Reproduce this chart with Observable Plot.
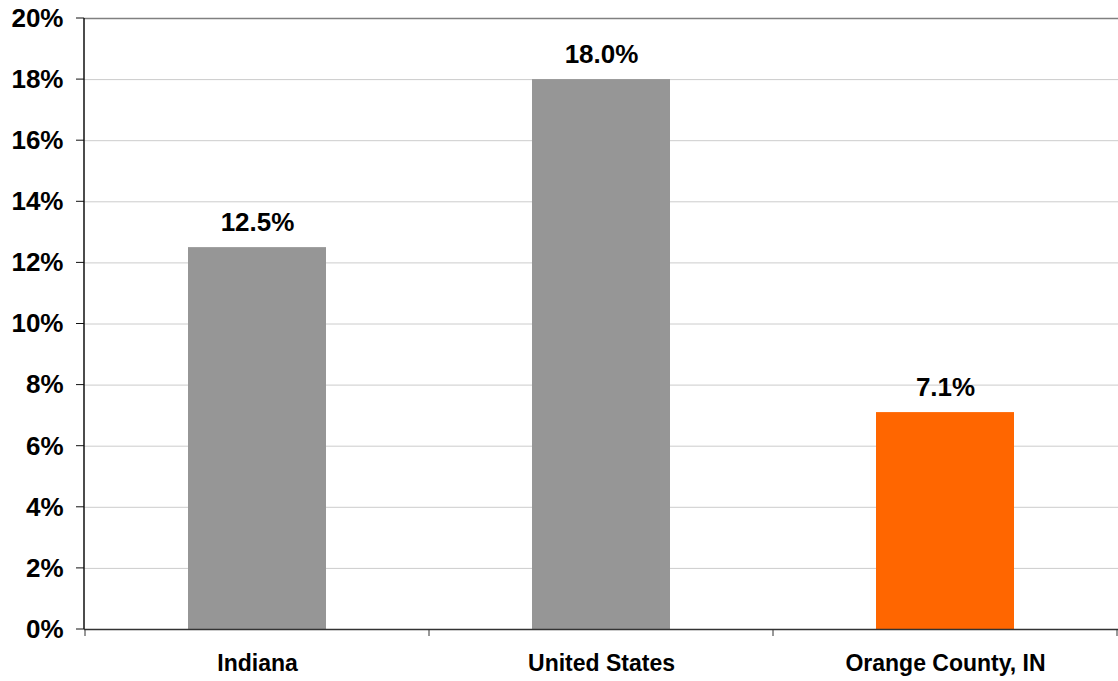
<!DOCTYPE html>
<html>
<head>
<meta charset="utf-8">
<script src="https://cdn.jsdelivr.net/npm/d3@7"></script>
<script src="https://cdn.jsdelivr.net/npm/@observablehq/plot@0.6"></script>
<style>
  html, body { margin: 0; padding: 0; background: #fff; }
  #chart svg { display: block; }
</style>
</head>
<body>
<div id="chart"></div>
<script>
// Share of population by area
const areas = ["Indiana", "United States", "Orange County, IN"];
const shares = [12.5, 18.0, 7.1];
const barColors = ["#969696", "#969696", "#FF6600"];
const yTicks = [0, 2, 4, 6, 8, 10, 12, 14, 16, 18, 20];

const data = areas.map((area, i) => ({area, share: shares[i], color: barColors[i]}));

// Tick marks on the category axis sit at the band boundaries, not the band centres
function bandBoundaryTicks(index, scales, values, dimensions) {
  const g = d3.create("svg:g");
  const bwOpt = scales.x.bandwidth;
  const bw = typeof bwOpt === "function" ? bwOpt() : bwOpt;
  const y0 = dimensions.height - dimensions.marginBottom;
  const edges = areas.map(a => scales.x(a)).concat([scales.x(areas[areas.length - 1]) + bw]);
  for (const x of edges) {
    g.append("line")
      .attr("x1", x).attr("x2", x)
      .attr("y1", y0).attr("y2", y0 + 7)
      .attr("stroke", "#333").attr("stroke-width", 1);
  }
  return g.node();
}

// Vertical axis line along the left edge of the plot area, with outward ticks
function leftAxis(index, scales, values, dimensions) {
  const g = d3.create("svg:g");
  const x = dimensions.marginLeft;
  g.append("line")
    .attr("x1", x).attr("x2", x)
    .attr("y1", scales.y(20)).attr("y2", scales.y(0))
    .attr("stroke", "#111").attr("stroke-width", 1.5);
  for (const t of yTicks) {
    g.append("line")
      .attr("x1", x - 8).attr("x2", x)
      .attr("y1", scales.y(t)).attr("y2", scales.y(t))
      .attr("stroke", "#111").attr("stroke-width", 1);
  }
  return g.node();
}

const chart = Plot.plot({
  width: 1118,
  height: 681,
  marginLeft: 84,
  marginRight: 0,
  marginTop: 18,
  marginBottom: 52,
  style: {fontFamily: "'Liberation Sans', Arial, sans-serif", background: "#fff"},
  x: {domain: areas, padding: 0, label: null},
  y: {domain: [0, 20], label: null},
  marks: [
    Plot.ruleY(yTicks.filter(t => t > 0 && t < 20), {stroke: "#cccccc", strokeWidth: 1}),
    Plot.ruleY([20], {stroke: "#808080", strokeWidth: 1.5}),
    Plot.barY(data, {x: "area", y: "share", fill: "color", insetLeft: 103, insetRight: 103}),
    Plot.ruleY([0], {stroke: "#333", strokeWidth: 1.5}),
    leftAxis,
    Plot.axisY({
      ticks: yTicks, tickSize: 0, tickPadding: 21,
      tickFormat: d => d + "%",
      fontSize: 26, fontWeight: "bold", color: "#000"
    }),
    Plot.axisX({
      tickSize: 0, tickPadding: 25,
      fontSize: 23, fontWeight: "bold", color: "#000"
    }),
    bandBoundaryTicks,
    Plot.text(data, {
      x: "area", y: "share",
      text: d => d.share.toFixed(1) + "%",
      dy: -25, fontSize: 26, fontWeight: "bold", fill: "#000"
    })
  ]
});

document.getElementById("chart").appendChild(chart);
</script>
</body>
</html>
